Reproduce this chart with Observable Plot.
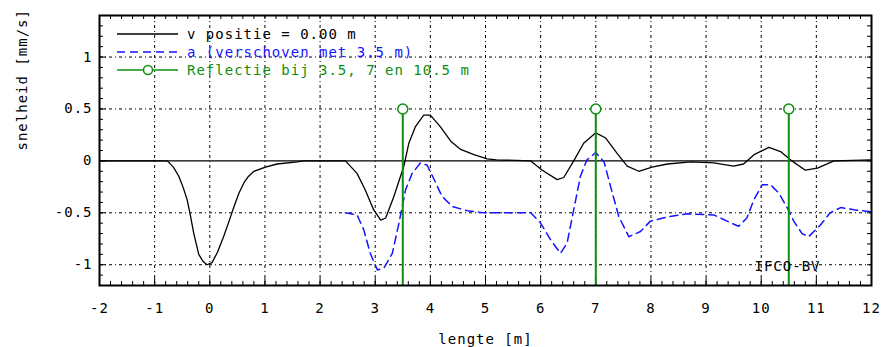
<!DOCTYPE html>
<html>
<head>
<meta charset="utf-8">
<script src="https://cdn.jsdelivr.net/npm/d3@7"></script>
<script src="https://cdn.jsdelivr.net/npm/@observablehq/plot@0.6"></script>
<style>
  html, body { margin: 0; padding: 0; background: #fff; }
  svg { display: block; }
</style>
</head>
<body>
<div id="chart"></div>
<script>
// ---- data ----
const xDomain = [-2, 12];
const yDomain = [-1.2, 1.4];
const xTicks = [-2, -1, 0, 1, 2, 3, 4, 5, 6, 7, 8, 9, 10, 11, 12];
const yTicks = [-1, -0.5, 0, 0.5, 1];
const xGrid = [-1, 0, 1, 2, 3, 4, 5, 6, 7, 8, 9, 10, 11];
const yGrid = [-1, -0.5, 0.5, 1];

// v positie = 0.00 m (black)
const velX = [-2, -0.77, -0.66, -0.56, -0.48, -0.41, -0.35, -0.29, -0.20, -0.12, -0.05, 0.04, 0.14, 0.25, 0.35, 0.44, 0.53, 0.62, 0.70, 0.80, 1.01, 1.22, 1.59, 1.7,
  2.46, 2.67, 2.82, 2.97, 3.10, 3.19, 3.34, 3.52, 3.61, 3.73, 3.88, 4.00, 4.18, 4.37, 4.55, 4.79, 5.03, 5.2,
  5.82, 6.03, 6.30, 6.42, 6.60, 6.78, 7.00, 7.18, 7.39, 7.57, 7.78, 8.02, 8.30, 8.72, 9.14, 9.50, 9.68, 9.87, 10.14, 10.35, 10.53, 10.80, 11.02, 11.32, 12];
const velY = [0, 0, -0.06, -0.15, -0.26, -0.375, -0.53, -0.70, -0.90, -0.97, -1.0, -0.98, -0.88, -0.73, -0.58, -0.44, -0.31, -0.21, -0.15, -0.10, -0.06, -0.03, -0.01, 0,
  0, -0.12, -0.28, -0.47, -0.57, -0.55, -0.34, -0.05, 0.17, 0.33, 0.44, 0.44, 0.33, 0.19, 0.11, 0.06, 0.02, 0.01,
  0, -0.09, -0.18, -0.16, 0, 0.17, 0.27, 0.22, 0.07, -0.05, -0.10, -0.06, -0.03, -0.01, -0.02, -0.05, -0.03, 0.06, 0.13, 0.09, 0.01, -0.09, -0.07, 0, 0.01];

// a (verschoven met 3.5 m) (blue dashed)
const accX = [2.46, 2.67, 2.79, 2.91, 3.04, 3.16, 3.31, 3.43, 3.55, 3.67, 3.82, 3.94, 4.06, 4.21, 4.40, 4.67, 4.97, 5.45, 5.82,
  6.00, 6.18, 6.36, 6.48, 6.60, 6.72, 6.84, 7.00, 7.15, 7.27, 7.42, 7.60, 7.81, 7.99, 8.30, 8.66, 9.14, 9.38, 9.59, 9.74, 9.87,
  10.02, 10.17, 10.32, 10.47, 10.59, 10.74, 10.86, 11.07, 11.25, 11.44, 11.68, 12.0];
const accY = [-0.50, -0.52, -0.66, -0.89, -1.05, -1.03, -0.89, -0.60, -0.28, -0.12, -0.02, -0.04, -0.17, -0.34, -0.44, -0.48, -0.50, -0.50, -0.50,
  -0.60, -0.76, -0.89, -0.79, -0.47, -0.15, 0.01, 0.08, -0.01, -0.25, -0.54, -0.73, -0.68, -0.58, -0.54, -0.51, -0.52, -0.58, -0.63, -0.55, -0.37,
  -0.23, -0.23, -0.31, -0.45, -0.58, -0.70, -0.73, -0.62, -0.50, -0.45, -0.47, -0.49];

// Reflectie bij 3.5, 7 en 10.5 m
const reflX = [3.5, 7, 10.5];
const reflMarkerY = 0.5;

const legendLabels = ["v positie = 0.00 m", "a (verschoven met 3.5 m)", "Reflectie bij 3.5, 7 en 10.5 m"];
const xLabel = "lengte [m]";
const yLabel = "snelheid [mm/s]";
const stamp = "IFCO-BV";

// ---- styles ----
const GREEN = "#0f8f0f";
const BLUE = "#1414ff";
const FONT = "DejaVu Sans Mono";

const vel = velX.map((x, i) => ({x, y: velY[i]}));
const acc = accX.map((x, i) => ({x, y: accY[i]}));
const minorX = d3.range(-20, 121, 2).map(d => d / 10);
const minorY = d3.range(-12, 15, 1).map(d => d / 10);
const fmt = d => String(d);

const svg = Plot.plot({
  width: 881,
  height: 347,
  marginLeft: 99,
  marginRight: 10,
  marginTop: 15,
  marginBottom: 62,
  x: {domain: xDomain},
  y: {domain: yDomain},
  style: {fontFamily: FONT, fontSize: "14px", background: "#fff", color: "#000", letterSpacing: "1px"},
  marks: [
    Plot.gridX(xGrid, {stroke: "#000", strokeOpacity: 1, strokeDasharray: "3,3,1,3"}),
    Plot.gridY(yGrid, {stroke: "#000", strokeOpacity: 1, strokeDasharray: "3,3,1,3"}),
    // minor inward ticks
    Plot.tickX(minorX, {x: d => d, insetTop: 266, stroke: "#000"}),
    Plot.tickX(minorX, {x: d => d, insetBottom: 266, stroke: "#000"}),
    Plot.tickY(minorY, {y: d => d, insetRight: 768, stroke: "#000"}),
    Plot.tickY(minorY, {y: d => d, insetLeft: 768, stroke: "#000"}),
    Plot.tickX(xTicks, {x: d => d, insetTop: 263, stroke: "#000"}),
    Plot.tickY(yTicks, {y: d => d, insetRight: 765, stroke: "#000"}),
    Plot.ruleY([0], {stroke: "#000", strokeWidth: 1.3}),
    Plot.line(vel, {x: "x", y: "y", stroke: "#000", strokeWidth: 1.3}),
    Plot.line(acc, {x: "x", y: "y", stroke: BLUE, strokeWidth: 1.5, strokeDasharray: "8,5"}),
    Plot.ruleX(reflX, {x: d => d, y1: yDomain[0], y2: reflMarkerY, stroke: GREEN, strokeWidth: 2}),
    Plot.dot(reflX, {x: d => d, y: () => reflMarkerY, r: 5, stroke: GREEN, strokeWidth: 1.5, fill: "#fff"}),
    Plot.frame({stroke: "#000", strokeWidth: 2}),
    Plot.axisX(xTicks, {tickSize: 0, tickPadding: 18, label: null, fontSize: 14, tickFormat: fmt}),
    Plot.axisY(yTicks, {tickSize: 0, tickPadding: 7, label: null, fontSize: 14, tickFormat: fmt}),
    Plot.text([xLabel], {frameAnchor: "bottom", dy: 58, fontSize: 14}),
    Plot.text([yLabel], {frameAnchor: "left", dx: -77, rotate: -90, fontSize: 14}),
    Plot.text([stamp], {frameAnchor: "bottom-right", dx: -51, dy: -15, textAnchor: "end", fontSize: 14})
  ]
});

// ---- legend (inside plot, top-left) ----
const g = d3.select(svg).append("g")
  .attr("font-family", FONT).attr("font-size", 14).attr("letter-spacing", "1px")
  .attr("text-anchor", "start");
const rows = [
  {y: 34, color: "#000", dash: null, marker: false},
  {y: 52, color: BLUE, dash: "8,5", marker: false},
  {y: 70, color: GREEN, dash: null, marker: true}
];
rows.forEach((r, i) => {
  g.append("line").attr("x1", 117).attr("x2", 178).attr("y1", r.y).attr("y2", r.y)
    .attr("stroke", r.color).attr("stroke-width", r.marker ? 1.5 : 1.3)
    .attr("stroke-dasharray", r.dash);
  if (r.marker) g.append("circle").attr("cx", 148).attr("cy", r.y).attr("r", 4.5)
    .attr("fill", "#fff").attr("stroke", r.color).attr("stroke-width", 1.5);
  g.append("text").attr("x", 187).attr("y", r.y).attr("dy", "0.35em")
    .attr("text-anchor", "start")
    .attr("fill", r.color).text(legendLabels[i]);
});

document.getElementById("chart").appendChild(svg);
</script>
</body>
</html>
